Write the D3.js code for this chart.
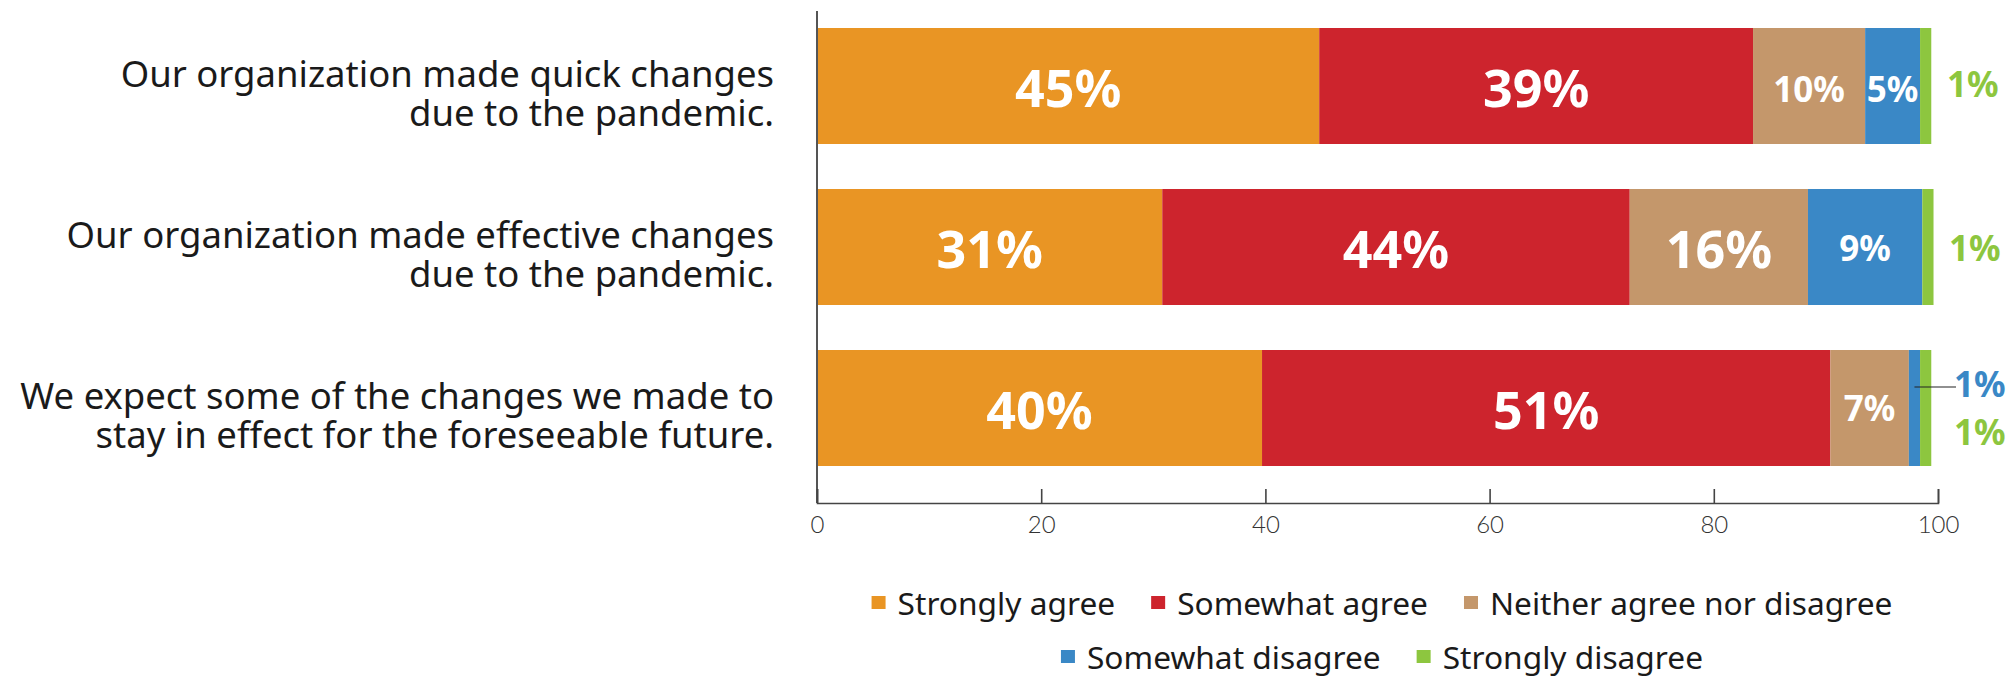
<!DOCTYPE html>
<html><head><meta charset="utf-8">
<script src="https://cdn.jsdelivr.net/npm/d3@7"></script>
<style>body{margin:0;background:#fff}svg{display:block}</style>
</head><body>
<svg id="c" width="2014" height="678"></svg>
<script>
const categories = [
  ["Our organization made quick changes", "due to the pandemic."],
  ["Our organization made effective changes", "due to the pandemic."],
  ["We expect some of the changes we made to", "stay in effect for the foreseeable future."]
];
const seriesNames = ["Strongly agree", "Somewhat agree", "Neither agree nor disagree", "Somewhat disagree", "Strongly disagree"];
const stronglyAgree    = [44.8, 30.8, 39.7];
const somewhatAgree    = [38.7, 41.7, 50.7];
const neitherAgree     = [10.0, 15.9, 7.0];
const somewhatDisagree = [4.9, 10.2, 1.0];
const stronglyDisagree = [1.0, 1.0, 1.0];
const labelText = [
  ["45%", "39%", "10%", "5%", "1%"],
  ["31%", "44%", "16%", "9%", "1%"],
  ["40%", "51%", "7%", "1%", "1%"]
];
const xTicks = [0, 20, 40, 60, 80, 100];
const colors = ["#E99524", "#CD242D", "#C4976B", "#3A88C6", "#8DC63F"];

const FONT = "'Noto Sans', 'Open Sans', sans-serif";
const TICKFONT = "Lato, 'Noto Sans', sans-serif";
const svg = d3.select("#c");
const seriesVals = [stronglyAgree, somewhatAgree, neitherAgree, somewhatDisagree, stronglyDisagree];
const rows = categories.map((c, i) => {
  const r = {idx: i};
  seriesNames.forEach((s, j) => r[s] = seriesVals[j][i]);
  return r;
});
const stack = d3.stack().keys(seriesNames)(rows);

const x = d3.scaleLinear().domain([0, 100]).range([817, 1938]);
const y = d3.scaleBand().domain(d3.range(categories.length)).range([28, 466])
  .paddingInner(45 / 161).paddingOuter(0);
const color = d3.scaleOrdinal().domain(seriesNames).range(colors);

// bars
const g = svg.append("g");
g.selectAll("g.s").data(stack).join("g").attr("fill", d => color(d.key))
  .selectAll("rect").data(d => d).join("rect")
  .attr("x", d => x(d[0])).attr("width", d => x(d[1]) - x(d[0]))
  .attr("y", d => y(d.data.idx)).attr("height", y.bandwidth());

// vertical axis line
svg.append("line").attr("x1", x(0)).attr("x2", x(0))
  .attr("y1", y.range()[0] - 17).attr("y2", y.range()[1] + 37)
  .attr("stroke", "#555").attr("stroke-width", 2);

// bottom axis
const ax = svg.append("g").attr("transform", `translate(0,${y.range()[1] + 37})`)
  .call(d3.axisBottom(x).tickValues(xTicks).tickSize(-14).tickPadding(13));
ax.select(".domain").attr("stroke", "#444").attr("stroke-width", 1.6);
ax.selectAll(".tick line").attr("stroke", "#444").attr("stroke-width", 1.6);
ax.selectAll(".tick text").attr("font-family", TICKFONT).attr("font-size", 24)
  .attr("font-weight", 300).attr("fill", "#333");

// category labels
const cat = svg.append("g");
categories.forEach((lines, i) => {
  const cy = y(i) + y.bandwidth() / 2;
  const t = cat.append("text").attr("text-anchor", "end").attr("font-family", FONT)
    .attr("font-size", 36.5).attr("fill", "#1a1a1a");
  lines.forEach((l, k) => t.append("tspan").attr("x", 774).attr("y", cy + 1 + k * 39).text(l));
});

// data labels
const big = new Set(["0-0","0-1","1-0","1-1","1-2","2-0","2-1"]);
const shift = {"0-2": 15.8, "0-3": 15.8, "1-3": 14.4, "2-2": 13};
const outside = {"0-4": [9, 11, 4], "1-4": [11, 14.4, 4], "2-3": [16, -11, 3], "2-4": [16, 37.4, 4]};
const lab = svg.append("g").attr("font-family", FONT).attr("font-weight", 700);
stack.forEach((s, j) => {
  s.forEach((d, i) => {
    const key = i + "-" + j;
    const cy = y(i) + y.bandwidth() / 2;
    if (outside[key]) {
      const o = outside[key];
      lab.append("text").attr("x", x(100) + o[0]).attr("y", cy + o[1])
        .attr("font-size", 35).attr("fill", colors[o[2]]).text(labelText[i][j]);
      if (j === 3) {
        lab.append("line").attr("x1", (x(d[0]) + x(d[1])) / 2).attr("x2", x(100) + o[0] + 2)
          .attr("y1", cy + o[1] - 10).attr("y2", cy + o[1] - 10)
          .attr("stroke", "#222").attr("stroke-width", 1.2);
      }
    } else {
      const isBig = big.has(key);
      lab.append("text").attr("text-anchor", "middle")
        .attr("x", (x(d[0]) + x(d[1])) / 2)
        .attr("y", cy + (isBig ? 20.5 : shift[key]))
        .attr("font-size", isBig ? 52 : 35).attr("fill", "#fff").text(labelText[i][j]);
    }
  });
});

// legend
const legendRows = [[0, 1, 2], [3, 4]];
const legCenter = 1382;
legendRows.forEach((r, ri) => {
  const lg = svg.append("g");
  const base = 615 + ri * 54;
  let cx = 0;
  r.forEach((j, k) => {
    const it = lg.append("g").attr("transform", `translate(${cx},0)`);
    it.append("rect").attr("x", 0).attr("y", base - 19).attr("width", 14).attr("height", 13).attr("fill", colors[j]);
    const t = it.append("text").attr("x", 26).attr("y", base).attr("font-family", FONT)
      .attr("font-size", 31.7).attr("fill", "#1a1a1a").text(seriesNames[j]);
    cx += 26 + t.node().getComputedTextLength() + 36;
  });
  const w = cx - 36;
  lg.attr("transform", `translate(${legCenter - w / 2},0)`);
});
</script>
</body></html>
